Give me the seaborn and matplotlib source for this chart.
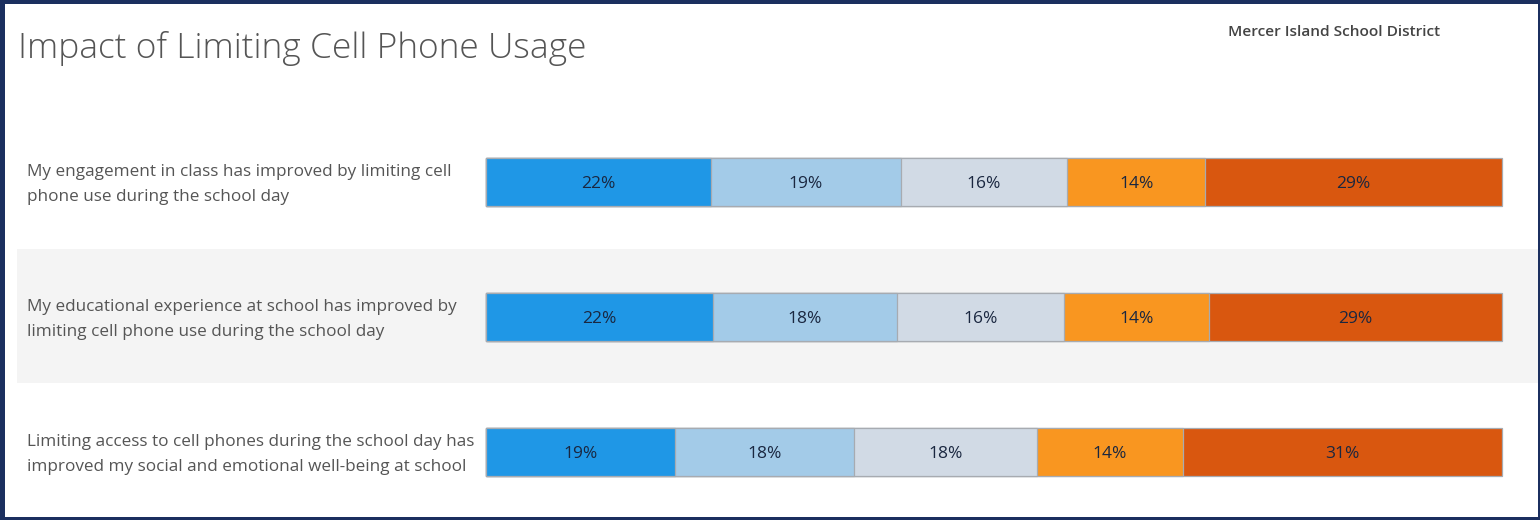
import pandas as pd
import matplotlib.pyplot as plt
import matplotlib.transforms as mtransforms
from matplotlib.patches import Rectangle
import seaborn as sns

# Survey data (percent of students per response)
questions = [
    "My engagement in class has improved by limiting cell\nphone use during the school day",
    "My educational experience at school has improved by\nlimiting cell phone use during the school day",
    "Limiting access to cell phones during the school day has\nimproved my social and emotional well-being at school",
]
responses = ["Strongly agree", "Agree", "Neutral", "Disagree", "Strongly disagree"]
strongly_agree = [22.1, 22.3, 18.6]
agree = [18.7, 18.2, 17.6]
neutral = [16.4, 16.4, 18.0]
disagree = [13.6, 14.3, 14.4]
strongly_disagree = [29.2, 28.8, 31.4]
colors = ["#1f97e6", "#a3cbe8", "#d1dae5", "#f99620", "#d9570f"]

sns.set_style("white")
plt.rcParams['font.family'] = ['Open Sans', 'DejaVu Sans']

# long table with cumulative values for stacking
series = [strongly_agree, agree, neutral, disagree, strongly_disagree]
rows = []
for qi, q in enumerate(questions):
    cum = 0
    for ri, r in enumerate(responses):
        v = series[ri][qi]
        rows.append({"question": q, "response": r, "value": v,
                     "left": cum, "cum": cum + v})
        cum += v
df = pd.DataFrame(rows)

W, H = 1540, 520
fig = plt.figure(figsize=(W / 100, H / 100), dpi=100)
fig.patch.set_facecolor("#1b2f5f")
# white panel inside the navy frame
fig.patches.append(Rectangle((5 / W, 1 - 517 / H), 1533 / W, 513 / H,
                             transform=fig.transFigure, facecolor="white",
                             edgecolor="none", zorder=-2))
# shaded band behind the middle row
fig.patches.append(Rectangle((17 / W, 1 - 383 / H), 1521 / W, 134 / H,
                             transform=fig.transFigure, facecolor="#f4f4f4",
                             edgecolor="none", zorder=-1))

ax = fig.add_axes([486 / W, 1 - 519.5 / H, 1016 / W, 405 / H])
ax.set_facecolor("none")

sns.barplot(data=df, x="cum", y="question", hue="response",
            hue_order=responses[::-1], palette=colors[::-1],
            order=questions, dodge=False, width=48 / 135, saturation=1,
            edgecolor="#a7abb1", linewidth=0.9, legend=False, ax=ax)
for p in ax.patches:
    p.set_clip_on(False)

ax.set_xlim(0, 100)
ax.set_ylim(2.5, -0.5)
ax.set_xlabel("")
ax.set_ylabel("")
ax.set_xticks([])
ax.set_yticks([])
sns.despine(ax=ax, left=True, bottom=True)

# percent labels
for _, r in df.iterrows():
    ax.text(r["left"] + r["value"] / 2, questions.index(r["question"]) + 0.012,
            f"{r['value']:.0f}%", ha="center", va="center",
            fontsize=12.5, color="#1a2740")

# question labels on the left
trans = mtransforms.blended_transform_factory(fig.transFigure, ax.transData)
for i, q in enumerate(questions):
    ax.text(27 / W, i + 0.02, q, transform=trans, ha="left", va="center",
            fontsize=12.3, color="#555555", linespacing=1.72, clip_on=False)

fig.text(18 / W, 1 - 48 / H, "Impact of Limiting Cell Phone Usage",
         fontsize=25.5, color="#555555", ha="left", va="center",
         fontweight="light")
fig.text(1228 / W, 1 - 32 / H, "Mercer Island School District",
         fontsize=11.1, color="#444444", ha="left", va="center",
         fontweight="semibold")

plt.savefig("out.png", dpi=100, facecolor=fig.get_facecolor())
